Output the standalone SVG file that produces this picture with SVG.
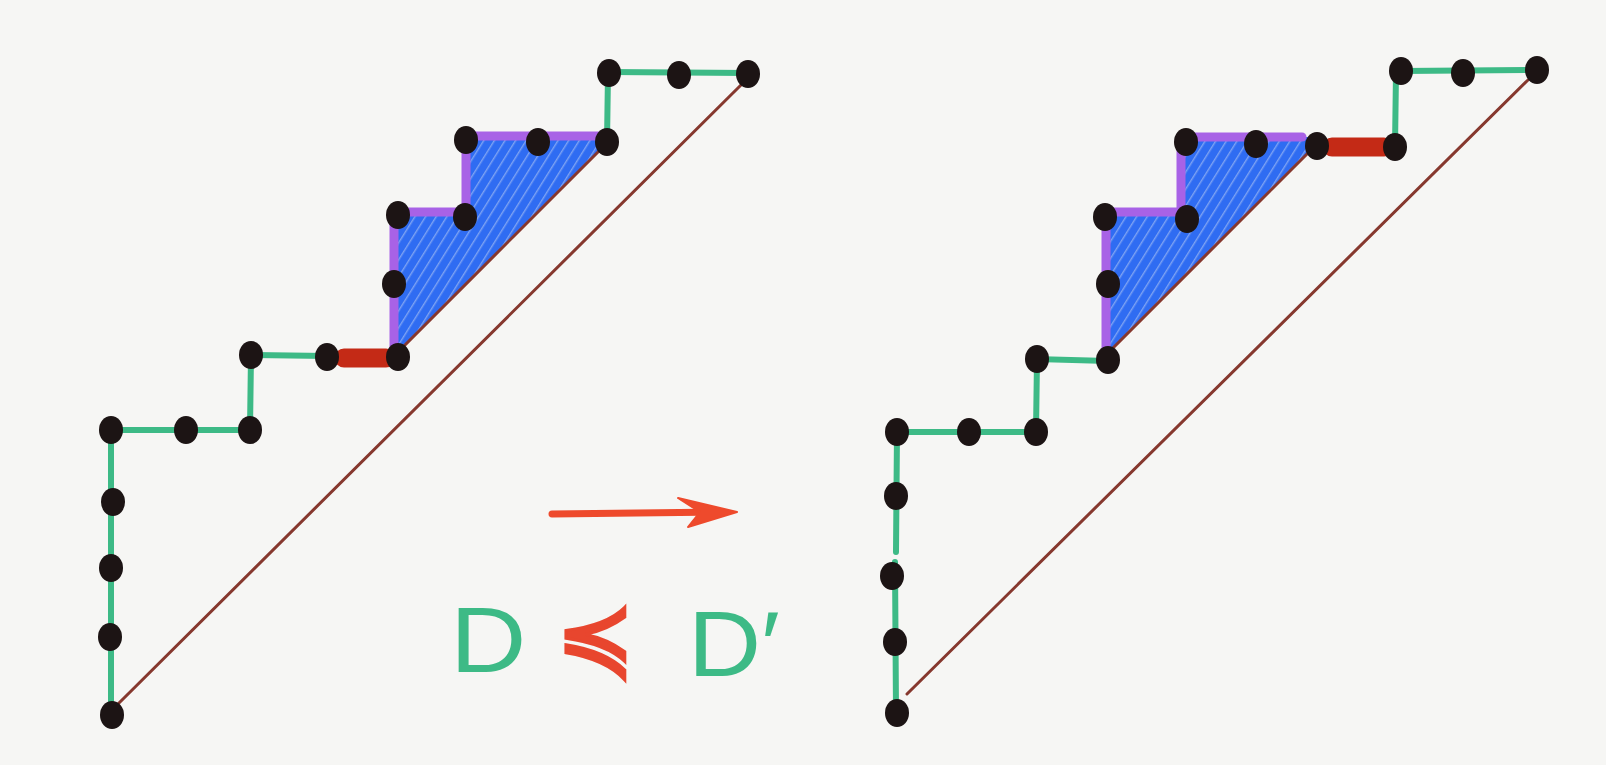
<svg xmlns="http://www.w3.org/2000/svg" width="1606" height="765" viewBox="0 0 1606 765">
<style>
.g{stroke:#3dba86;stroke-width:6;fill:none;stroke-linecap:round}
.p{stroke:#a862e6;stroke-width:9;fill:none;stroke-linecap:round}
.br{stroke:#86382e;stroke-width:3;fill:none;stroke-linecap:round}
.rd{stroke:#c42a16;stroke-width:19;fill:none;stroke-linecap:round}
.dot{fill:#1c1414}
.hatch{fill:url(#hp)}
.lbl{font-family:"Liberation Sans",Arial,sans-serif;font-size:92px}
</style>
<defs>
<pattern id="hp" width="9" height="9" patternUnits="userSpaceOnUse" patternTransform="rotate(-58)">
<rect width="9" height="9" fill="#2f6cf2"/>
<rect x="0" y="7" width="9" height="1.4" fill="#7ea3f3"/>
</pattern>
</defs>
<rect width="1606" height="765" fill="#f6f6f4"/>

<g id="left-figure">
<polygon class="hatch" points="394,356 394,212 466,212 466,136 606,136 606,144"/>
<g id="left-connectors">
<line class="br" x1="118" y1="704" x2="742" y2="84"/>
<line class="br" x1="400" y1="350" x2="604" y2="146"/>
<polyline class="g" points="609,72 748,73"/>
<line class="g" x1="608" y1="73" x2="607" y2="142"/>
<polyline class="g" points="327,356 251,355 250,430 111,430 111,715"/>
<line class="p" x1="470" y1="136" x2="598" y2="136"/>
<line class="p" x1="466" y1="142" x2="466" y2="212"/>
<line class="p" x1="402" y1="212" x2="462" y2="212"/>
<line class="p" x1="394" y1="220" x2="394" y2="350"/>
<line class="rd" x1="344" y1="358" x2="386" y2="358"/>
</g>
<g id="left-dots">
<ellipse class="dot" cx="609" cy="73" rx="12" ry="14"/>
<ellipse class="dot" cx="679" cy="75" rx="12" ry="14"/>
<ellipse class="dot" cx="748" cy="74" rx="12" ry="14"/>
<ellipse class="dot" cx="466" cy="140" rx="12" ry="14"/>
<ellipse class="dot" cx="538" cy="142" rx="12" ry="14"/>
<ellipse class="dot" cx="607" cy="142" rx="12" ry="14"/>
<ellipse class="dot" cx="398" cy="215" rx="12" ry="14"/>
<ellipse class="dot" cx="465" cy="217" rx="12" ry="14"/>
<ellipse class="dot" cx="394" cy="284" rx="12" ry="14"/>
<ellipse class="dot" cx="251" cy="355" rx="12" ry="14"/>
<ellipse class="dot" cx="327" cy="357" rx="12" ry="14"/>
<ellipse class="dot" cx="398" cy="357" rx="12" ry="14"/>
<ellipse class="dot" cx="111" cy="430" rx="12" ry="14"/>
<ellipse class="dot" cx="186" cy="430" rx="12" ry="14"/>
<ellipse class="dot" cx="250" cy="430" rx="12" ry="14"/>
<ellipse class="dot" cx="113" cy="502" rx="12" ry="14"/>
<ellipse class="dot" cx="111" cy="568" rx="12" ry="14"/>
<ellipse class="dot" cx="110" cy="637" rx="12" ry="14"/>
<ellipse class="dot" cx="112" cy="715" rx="12" ry="14"/>
</g>
</g>

<g id="right-figure">
<polygon class="hatch" points="1106,355 1106,212 1181,212 1181,137 1310,137 1310,151"/>
<g id="right-connectors">
<line class="br" x1="907" y1="694" x2="1528" y2="80"/>
<line class="br" x1="1112" y1="349" x2="1312" y2="149"/>
<line class="g" x1="1401" y1="71" x2="1537" y2="70"/>
<line class="g" x1="1396" y1="72" x2="1395" y2="147"/>
<polyline class="g" points="1108,361 1037,359 1036,432 897,432 896,552"/>
<line class="g" x1="895" y1="562" x2="896" y2="713"/>
<line class="p" x1="1192" y1="137" x2="1302" y2="137"/>
<line class="p" x1="1181" y1="146" x2="1181" y2="214"/>
<line class="p" x1="1112" y1="212" x2="1178" y2="212"/>
<line class="p" x1="1106" y1="222" x2="1106" y2="352"/>
<line class="rd" x1="1332" y1="147" x2="1384" y2="147"/>
</g>
<g id="right-dots">
<ellipse class="dot" cx="1401" cy="71" rx="12" ry="14"/>
<ellipse class="dot" cx="1463" cy="73" rx="12" ry="14"/>
<ellipse class="dot" cx="1537" cy="70" rx="12" ry="14"/>
<ellipse class="dot" cx="1186" cy="142" rx="12" ry="14"/>
<ellipse class="dot" cx="1256" cy="144" rx="12" ry="14"/>
<ellipse class="dot" cx="1317" cy="146" rx="12" ry="14"/>
<ellipse class="dot" cx="1395" cy="147" rx="12" ry="14"/>
<ellipse class="dot" cx="1105" cy="217" rx="12" ry="14"/>
<ellipse class="dot" cx="1187" cy="219" rx="12" ry="14"/>
<ellipse class="dot" cx="1108" cy="284" rx="12" ry="14"/>
<ellipse class="dot" cx="1037" cy="359" rx="12" ry="14"/>
<ellipse class="dot" cx="1108" cy="360" rx="12" ry="14"/>
<ellipse class="dot" cx="897" cy="432" rx="12" ry="14"/>
<ellipse class="dot" cx="969" cy="432" rx="12" ry="14"/>
<ellipse class="dot" cx="1036" cy="432" rx="12" ry="14"/>
<ellipse class="dot" cx="896" cy="496" rx="12" ry="14"/>
<ellipse class="dot" cx="892" cy="576" rx="12" ry="14"/>
<ellipse class="dot" cx="895" cy="642" rx="12" ry="14"/>
<ellipse class="dot" cx="897" cy="713" rx="12" ry="14"/>
</g>
</g>

<g id="arrow">
<line x1="552" y1="514" x2="722" y2="512" stroke="#ee4a2c" stroke-width="7" stroke-linecap="round"/>
<polygon points="678,498 737,512 688,527 700,512" fill="#ee4a2c" stroke="#ee4a2c" stroke-width="2" stroke-linejoin="round"/>
</g>

<g id="relation">
<text class="lbl" transform="translate(450,672) scale(1.15,1)" fill="#3dba86">D</text>
<text x="556" y="670" font-family="DejaVu Sans,sans-serif" font-size="94" fill="#e8462e" stroke="#e8462e" stroke-width="3">≼</text>
<text class="lbl" transform="translate(688,676) scale(1.1,1)" fill="#3dba86">D′</text>
</g>
</svg>
